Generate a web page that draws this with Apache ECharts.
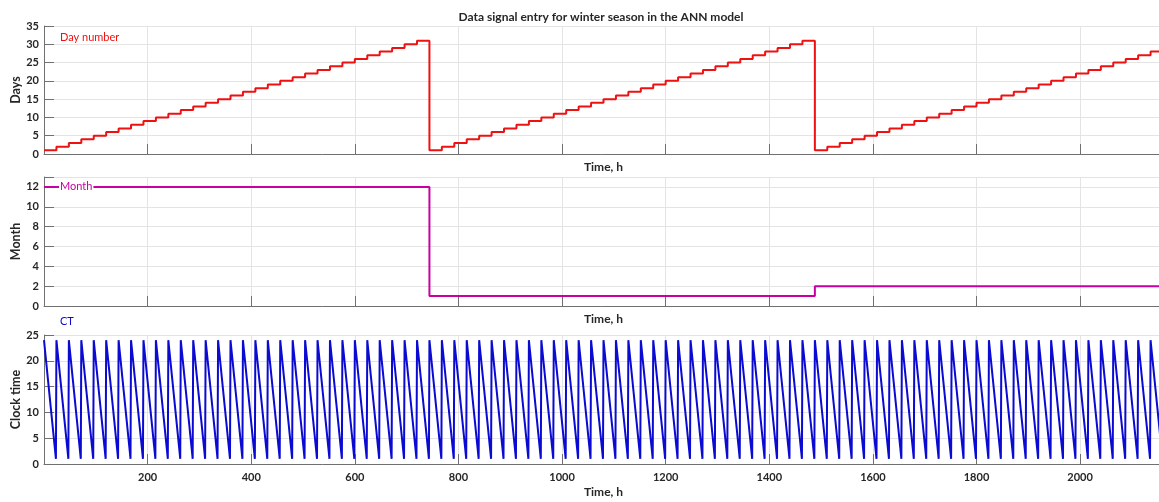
<!DOCTYPE html>
<html>
<head>
<meta charset="utf-8">
<script src="https://cdn.jsdelivr.net/npm/echarts@6/dist/echarts.min.js"></script>
<style>
html,body{margin:0;padding:0;background:#fff;}
#chart{width:1159px;height:502px;}
</style>
</head>
<body>
<div id="chart"></div>
<script>
// ---- Data ----
const chartTitle = 'Data signal entry for winter season in the ANN model';
const monthNumbers = [12, 1, 2];                 // Dec, Jan, Feb
const decemberDays = [1,2,3,4,5,6,7,8,9,10,11,12,13,14,15,16,17,18,19,20,21,22,23,24,25,26,27,28,29,30,31];
const januaryDays  = [1,2,3,4,5,6,7,8,9,10,11,12,13,14,15,16,17,18,19,20,21,22,23,24,25,26,27,28,29,30,31];
const februaryDays = [1,2,3,4,5,6,7,8,9,10,11,12,13,14,15,16,17,18,19,20,21,22,23,24,25,26,27,28];
const clockTimePattern = [24,23,22,21,20,19,18,17,16,15,14,13,12,11,10,9,8,7,6,5,4,3,2,1]; // CT value for each hour of a day
const hoursPerDay = 24;
const timeMax = 2160;
const xTicks = [200,400,600,800,1000,1200,1400,1600,1800,2000];

// ---- Build series from the arrays ----
const monthDayLists = [decemberDays, januaryDays, februaryDays];
const daySeries = [];
const monthSeries = [];
const ctSeries = [];
let t = 0;
monthDayLists.forEach((days, mi) => {
  monthSeries.push([t, monthNumbers[mi]]);
  days.forEach(d => {
    daySeries.push([t, d]);
    clockTimePattern.forEach((c, h) => ctSeries.push([t + h, c]));
    t += hoursPerDay;
  });
});
daySeries.push([t, februaryDays[februaryDays.length - 1]]);
monthSeries.push([t, monthNumbers[monthNumbers.length - 1]]);
ctSeries.push([t, clockTimePattern[0]]);

// ---- Chart ----
const FONT = 'Lato';
const txt = '#262626';
const axisCol = '#707070';
const gridCol = '#e4e4e4';

const grids = [
  {left: 44, right: -4, top: 26, height: 128, outerBoundsMode: 'none', containLabel: false},
  {left: 44, right: -4, top: 177, height: 129, outerBoundsMode: 'none', containLabel: false},
  {left: 44, right: -4, top: 335, height: 129, outerBoundsMode: 'none', containLabel: false}
];
const nameGaps = [7, 7, 22];

function xAxisFor(i) {
  return {
    type: 'value', gridIndex: i, min: 0, max: timeMax, interval: 200,
    name: 'Time, h', nameLocation: 'middle', nameGap: nameGaps[i], nameMoveOverlap: false,
    nameTextStyle: {fontFamily: FONT, fontWeight: 'bold', fontSize: 12, color: txt},
    axisLine: {show: true, onZero: false, lineStyle: {color: axisCol, width: 1}},
    axisTick: {show: true, inside: true, length: 10, lineStyle: {color: axisCol}},
    axisLabel: {show: i === 2, color: txt, fontFamily: FONT, fontWeight: 'bold', fontSize: 11,
      formatter: v => (xTicks.indexOf(v) >= 0 ? String(v) : '')},
    splitLine: {show: true, lineStyle: {color: gridCol, width: 1}}
  };
}
function yAxisFor(i, name, max, interval, hideMax) {
  return {
    type: 'value', gridIndex: i, min: 0, max: max, interval: interval,
    name: name, nameLocation: 'middle', nameGap: 22, nameRotate: 90, nameMoveOverlap: false,
    nameTextStyle: {fontFamily: FONT, fontWeight: 'bold', fontSize: 12.5, color: txt},
    axisLine: {show: true, lineStyle: {color: axisCol, width: 1}},
    axisTick: {show: true, inside: true, length: 10, lineStyle: {color: axisCol}},
    axisLabel: {color: txt, fontFamily: FONT, fontWeight: 'bold', fontSize: 11, margin: 5,
      formatter: v => (hideMax && v === max ? '' : String(v))},
    splitLine: {show: true, lineStyle: {color: gridCol, width: 1}}
  };
}

const chart = echarts.init(document.getElementById('chart'), null, {renderer: 'canvas'});
chart.setOption({
  animation: false,
  backgroundColor: '#ffffff',
  title: {
    text: chartTitle, left: 596, top: 6, textAlign: 'center',
    textStyle: {fontFamily: FONT, fontWeight: 'bold', fontSize: 12, color: txt}
  },
  grid: grids,
  xAxis: [xAxisFor(0), xAxisFor(1), xAxisFor(2)],
  yAxis: [
    yAxisFor(0, 'Days', 35, 5, false),
    yAxisFor(1, 'Month', 13, 2, true),
    yAxisFor(2, 'Clock time', 25, 5, false)
  ],
  series: [
    {name: 'Day number', type: 'line', xAxisIndex: 0, yAxisIndex: 0, data: daySeries,
      step: 'end', showSymbol: false, lineStyle: {color: '#ee1111', width: 2}, z: 3},
    {name: 'Month', type: 'line', xAxisIndex: 1, yAxisIndex: 1, data: monthSeries,
      step: 'end', showSymbol: false, lineStyle: {color: '#c800a4', width: 2}, z: 3},
    {name: 'CT', type: 'line', xAxisIndex: 2, yAxisIndex: 2, data: ctSeries,
      showSymbol: false, sampling: null, lineStyle: {color: '#0a0ad2', width: 2}, z: 3}
  ],
  graphic: [
    {type: 'text', left: 60, top: 32, z: 100, style: {text: 'Day number', fill: '#ee1111', font: '11px Lato'}},
    {type: 'text', left: 59, top: 181, z: 100, style: {text: 'Month', fill: '#c800a4', font: '11px Lato', backgroundColor: '#ffffff', padding: [0, 1]}},
    {type: 'text', left: 60, top: 316, z: 100, style: {text: 'CT', fill: '#0a0ad2', font: '11px Lato'}}
  ]
});
</script>
</body>
</html>
